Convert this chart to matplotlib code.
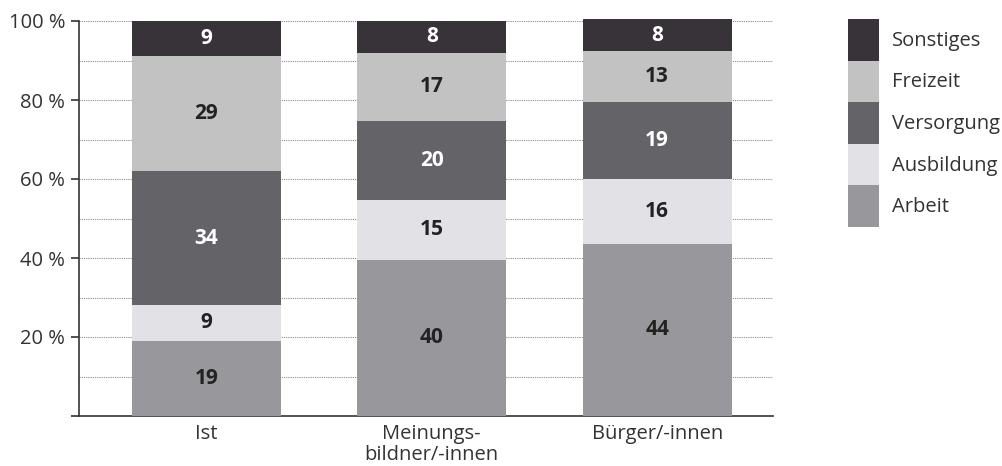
import matplotlib
matplotlib.use("Agg")
import matplotlib.pyplot as plt
from matplotlib.patches import Patch
import numpy as np

plt.rcParams['font.family'] = ['Open Sans', 'DejaVu Sans']

categories = ["Ist", "Meinungs-\nbildner/-innen", "Bürger/-innen"]
series_names = ["Arbeit", "Ausbildung", "Versorgung", "Freizeit", "Sonstiges"]
arbeit = [19.0, 39.6, 43.6]
ausbildung = [9.2, 15.2, 16.4]
versorgung = [33.7, 19.8, 19.4]
freizeit = [29.2, 17.4, 13.1]
sonstiges = [8.9, 8.1, 7.9]
yticks = [0, 20, 40, 60, 80, 100]
ytick_labels = ["", "20 %", "40 %", "60 %", "80 %", "100 %"]

series = [arbeit, ausbildung, versorgung, freizeit, sonstiges]
colors = ["#98979c", "#e2e1e6", "#646368", "#c2c2c2", "#373338"]
text_colors = ["#222222", "#222222", "#ffffff", "#222222", "#ffffff"]
text_col = "#333333"

W, H = 1003, 466
fig = plt.figure(figsize=(W / 100, H / 100), dpi=100)
ax = fig.add_axes([79 / W, 1 - 416 / H, (773 - 79) / W, (416 - 21) / H])

x = np.arange(len(categories))
bottom = np.zeros(len(categories))
for vals, col, tc in zip(series, colors, text_colors):
    vals = np.array(vals)
    ax.bar(x, vals, bottom=bottom, width=0.66, color=col, zorder=3, clip_on=False)
    for xi, b, v in zip(x, bottom, vals):
        ax.text(xi, b + v / 2, f"{int(round(v))}", ha="center", va="center",
                fontsize=15, fontweight="bold", color=tc, zorder=4)
    bottom += vals

ax.set_xlim(-0.565, 2.514)
ax.set_ylim(0, 100)
for gy in range(10, 101, 10):
    ax.axhline(gy, color="#8a8a8a", lw=0.8, ls=(0, (1, 1)), zorder=1)

ax.set_yticks(yticks)
ax.set_yticklabels(ytick_labels)
ax.tick_params(axis="y", direction="out", length=6, width=1.2, color=text_col,
               labelsize=14.5, labelcolor=text_col, pad=4)
ax.set_xticks(x)
ax.set_xticklabels(categories)
ax.tick_params(axis="x", length=0, labelsize=14.5, labelcolor=text_col, pad=6)
for lab in ax.get_xticklabels():
    lab.set_linespacing(1.05)

for s in ["top", "right"]:
    ax.spines[s].set_visible(False)
ax.spines["left"].set_color(text_col)
ax.spines["left"].set_linewidth(1.2)
ax.spines["bottom"].set_color(text_col)
ax.spines["bottom"].set_linewidth(1.2)

handles = [Patch(facecolor=c, edgecolor="none") for c in colors][::-1]
labels = series_names[::-1]
fs = 14.5
leg = fig.legend(handles, labels, loc="upper left",
                 bbox_to_anchor=(848 / W, 1 - 19 / H), frameon=False,
                 fontsize=fs, handlelength=1.54, handleheight=2.80,
                 labelspacing=0, borderpad=0, borderaxespad=0,
                 handletextpad=0.65)
for t in leg.get_texts():
    t.set_color(text_col)

fig.savefig("out.png", dpi=100)
